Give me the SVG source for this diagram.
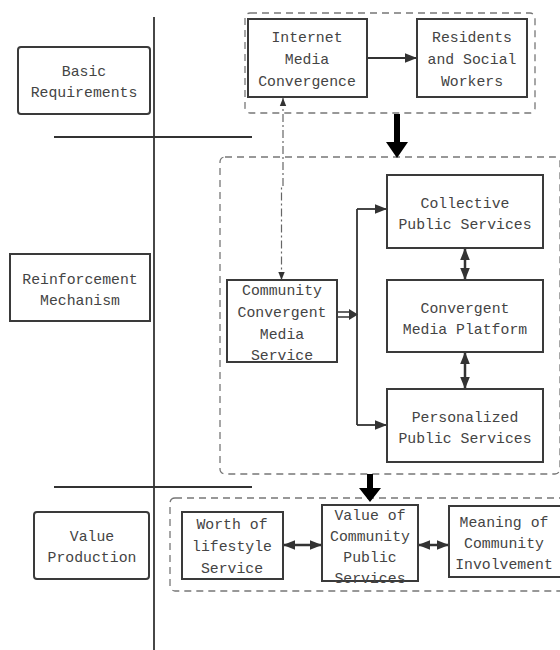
<svg xmlns="http://www.w3.org/2000/svg" width="560" height="650" viewBox="0 0 560 650">
<defs>
<style>
.t{font-family:"Liberation Mono","DejaVu Sans Mono",monospace;font-size:14.8px;fill:#444;text-anchor:middle}
.box{fill:#fff;stroke:#3a3a3a;stroke-width:2}
.grp{fill:none;stroke:#777;stroke-width:1.3;stroke-dasharray:7,5}
.ln{stroke:#333;stroke-width:1.8;fill:none}
</style>
<marker id="ah" viewBox="0 0 10 10" refX="10" refY="5" markerWidth="12" markerHeight="12" markerUnits="userSpaceOnUse" orient="auto-start-reverse"><path d="M0,1 L10,5 L0,9 z" fill="#333"/></marker>
<marker id="ahs" viewBox="0 0 10 10" refX="10" refY="5" markerWidth="8" markerHeight="8" markerUnits="userSpaceOnUse" orient="auto-start-reverse"><path d="M0,1 L10,5 L0,9 z" fill="#333"/></marker>
</defs>
<rect width="560" height="650" fill="#fff"/>
<g id="axes">
<line x1="154" y1="17" x2="154" y2="650" class="ln"/>
<line x1="54" y1="137" x2="252" y2="137" class="ln"/>
<line x1="54" y1="487" x2="252" y2="487" class="ln"/>
</g>
<g id="groups">
<rect x="245" y="13" width="290" height="100" rx="5" class="grp"/>
<rect x="220" y="157" width="340" height="317" rx="5" class="grp"/>
<rect x="170" y="498" width="395" height="93" rx="5" class="grp"/>
</g>
<g id="connectors">
<line x1="367" y1="58" x2="417" y2="58" class="ln" marker-end="url(#ah)"/>
<path d="M283,98 V186 H281.5 V280" fill="none" stroke="#666" stroke-width="1.2" stroke-dasharray="8,3,2,3" marker-start="url(#ahs)" marker-end="url(#ahs)"/>
<path d="M337,312 H350 M337,317 H350" stroke="#333" stroke-width="1.5"/>
<path d="M349,309 L358,314.5 L349,320 z" fill="#333"/>
<path d="M357,209 V425" class="ln"/>
<line x1="357" y1="209" x2="387" y2="209" class="ln" marker-end="url(#ah)"/>
<line x1="357" y1="425" x2="387" y2="425" class="ln" marker-end="url(#ah)"/>
<line x1="465" y1="248" x2="465" y2="280" stroke="#333" stroke-width="2.5" marker-start="url(#ah)" marker-end="url(#ah)"/>
<line x1="465" y1="352" x2="465" y2="389" stroke="#333" stroke-width="2.5" marker-start="url(#ah)" marker-end="url(#ah)"/>
<line x1="283" y1="545" x2="322" y2="545" stroke="#333" stroke-width="2.5" marker-start="url(#ah)" marker-end="url(#ah)"/>
<line x1="418" y1="545" x2="449" y2="545" stroke="#333" stroke-width="2.5" marker-start="url(#ah)" marker-end="url(#ah)"/>
<path d="M394,114 H400 V142 H408 L397,158 L386,142 H394 z" fill="#000"/>
<path d="M367,474 H373 V488 H381 L370,502 L359,488 H367 z" fill="#000"/>
</g>
<g id="basic-requirements">
<rect x="18" y="47" width="132" height="67" rx="3" class="box"/>
<text class="t" x="84" y="76">Basic</text>
<text class="t" x="84" y="97">Requirements</text>
</g>
<g id="reinforcement-mechanism">
<rect x="10" y="254" width="140" height="67" class="box"/>
<text class="t" x="80" y="284">Reinforcement</text>
<text class="t" x="80" y="305">Mechanism</text>
</g>
<g id="value-production">
<rect x="34" y="512" width="115" height="67" rx="3" class="box"/>
<text class="t" x="92" y="541">Value</text>
<text class="t" x="92" y="562">Production</text>
</g>
<g id="internet-media-convergence">
<rect x="248" y="19" width="119" height="78" class="box"/>
<text class="t" x="307" y="42">Internet</text>
<text class="t" x="307" y="64">Media</text>
<text class="t" x="307" y="86">Convergence</text>
</g>
<g id="residents">
<rect x="417" y="19" width="110" height="78" class="box"/>
<text class="t" x="472" y="42">Residents</text>
<text class="t" x="472" y="64">and Social</text>
<text class="t" x="472" y="86">Workers</text>
</g>
<g id="community-convergent-media-service">
<rect x="227" y="280" width="110" height="82" class="box"/>
<text class="t" x="282" y="295">Community</text>
<text class="t" x="282" y="317">Convergent</text>
<text class="t" x="282" y="339">Media</text>
<text class="t" x="282" y="360">Service</text>
</g>
<g id="collective-public-services">
<rect x="387" y="175" width="156" height="73" class="box"/>
<text class="t" x="465" y="208">Collective</text>
<text class="t" x="465" y="229">Public Services</text>
</g>
<g id="convergent-media-platform">
<rect x="387" y="280" width="156" height="72" class="box"/>
<text class="t" x="465" y="313">Convergent</text>
<text class="t" x="465" y="334">Media Platform</text>
</g>
<g id="personalized-public-services">
<rect x="387" y="389" width="156" height="73" class="box"/>
<text class="t" x="465" y="422">Personalized</text>
<text class="t" x="465" y="443">Public Services</text>
</g>
<g id="worth-of-lifestyle-service">
<rect x="182" y="512" width="101" height="67" class="box"/>
<text class="t" x="232" y="529">Worth of</text>
<text class="t" x="232" y="551">lifestyle</text>
<text class="t" x="232" y="573">Service</text>
</g>
<g id="value-of-community-public-services">
<rect x="322" y="505" width="96" height="76" class="box"/>
<text class="t" x="370" y="520">Value of</text>
<text class="t" x="370" y="541">Community</text>
<text class="t" x="370" y="562">Public</text>
<text class="t" x="370" y="583">Services</text>
</g>
<g id="meaning-of-community-involvement">
<rect x="449" y="506" width="114" height="71" class="box"/>
<text class="t" x="504" y="527">Meaning of</text>
<text class="t" x="504" y="548">Community</text>
<text class="t" x="504" y="569">Involvement</text>
</g>
</svg>
